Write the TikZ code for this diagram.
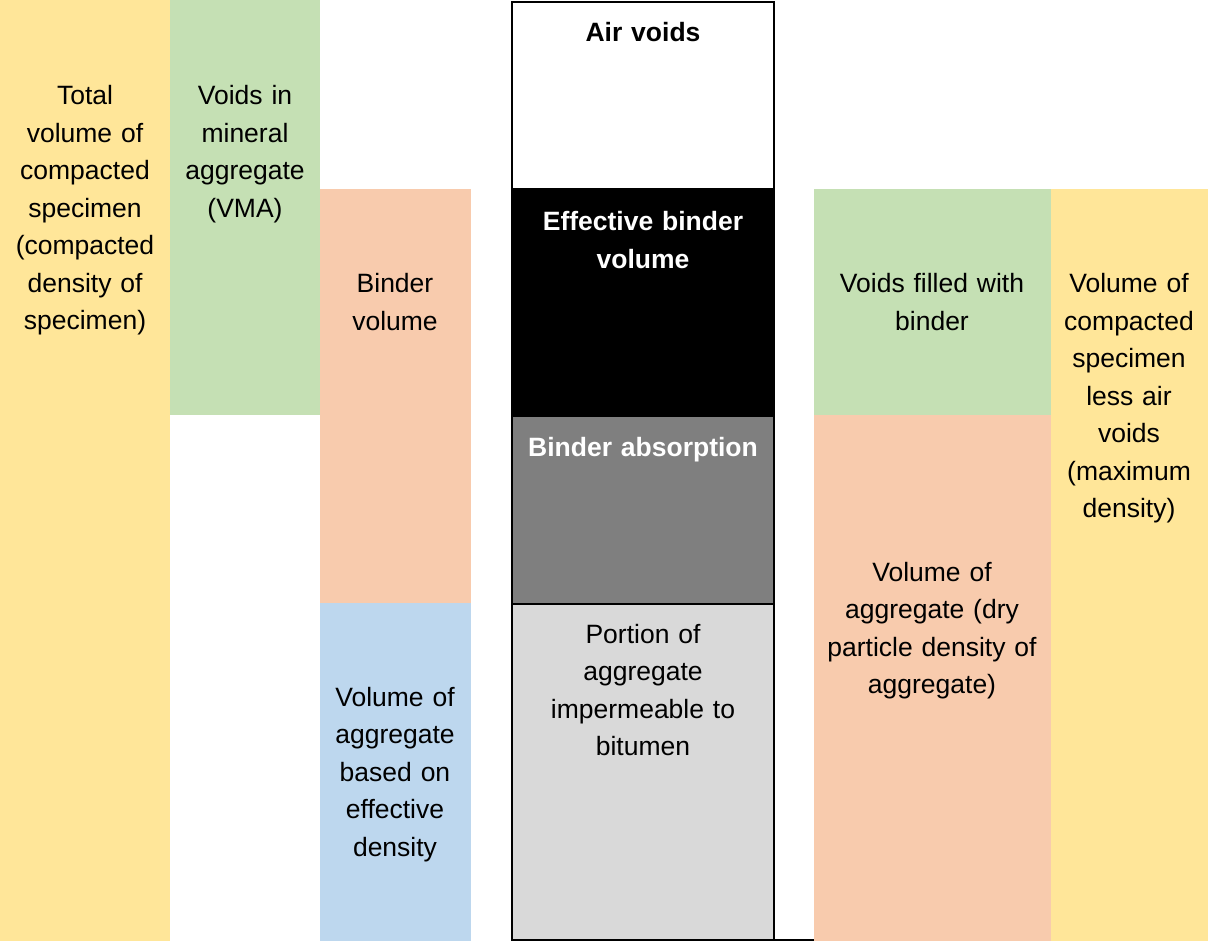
\documentclass[tikz,border=0pt]{standalone}
\usepackage{fontspec}
\setmainfont{Liberation Sans}
\definecolor{cyel}{HTML}{FFE699}
\definecolor{cgrn}{HTML}{C5E0B4}
\definecolor{corg}{HTML}{F8CBAD}
\definecolor{cblu}{HTML}{BDD7EE}
\definecolor{cdgr}{HTML}{7F7F7F}
\definecolor{clgr}{HTML}{D9D9D9}
\tikzset{
  blk/.style={draw=none, inner sep=0pt, outer sep=0pt, anchor=north west},
  cbox/.style={draw=black, line width=2pt, inner sep=0pt, outer sep=0pt, anchor=north west, minimum width=262pt},
  lbl/.style={align=center, text width=250pt, font=\fontsize{26.5}{37.5}\selectfont, anchor=base, inner sep=0pt},
  wlbl/.style={lbl, text=white, font=\fontsize{26.5}{37.5}\selectfont\bfseries},
}
\begin{document}
\begin{tikzpicture}[x=1pt,y=-1pt]
\useasboundingbox (0,0) rectangle (1208,941);
% left columns
\node[blk, fill=cyel, minimum width=170pt, minimum height=941pt] (yl) at (0,0) {};
\node[blk, fill=cgrn, minimum width=150pt, minimum height=415pt] (gl) at (170,0) {};
\node[blk, fill=corg, minimum width=151pt, minimum height=414pt] (ol) at (320,189) {};
\node[blk, fill=cblu, minimum width=151pt, minimum height=338pt] (bl) at (320,603) {};
% right columns
\node[blk, fill=cgrn, minimum width=237pt, minimum height=226pt] (gr) at (814,189) {};
\node[blk, fill=corg, minimum width=237pt, minimum height=526pt] (orr) at (814,415) {};
\node[blk, fill=cyel, minimum width=157pt, minimum height=752pt] (yr) at (1051,189) {};
% centre column
\node[cbox, fill=white, minimum height=187pt] (air) at (512,2) {};
\node[cbox, fill=black, minimum height=227pt] (eff) at (512,189) {};
\node[cbox, fill=cdgr, minimum height=188pt] (abs) at (512,416) {};
\node[cbox, fill=clgr, minimum height=336pt] (imp) at (512,604) {};
\draw[line width=2pt] (imp.south east) -- (imp.south east -| orr.west);
% labels
\node[lbl] (t1) at (85,105) {Total\\volume of\\compacted\\specimen\\(compacted\\density of\\specimen)};
\node[lbl] (t2) at (245,105) {Voids in\\mineral\\aggregate\\(VMA)};
\node[lbl] (t3) at (395,293) {Binder\\volume};
\node[lbl] (t4) at (395,706) {Volume of\\aggregate\\based on\\effective\\density};
\node[lbl, font=\fontsize{26.5}{37.5}\selectfont\bfseries] (t5) at (643,42) {Air voids};
\node[wlbl] (t6) at (643,231) {Effective binder\\volume};
\node[wlbl] (t7) at (643,456) {Binder absorption};
\node[lbl] (t8) at (643,643) {Portion of\\aggregate\\impermeable to\\bitumen};
\node[lbl] (t9) at (932,293) {Voids filled with\\binder};
\node[lbl] (t10) at (932,581) {Volume of\\aggregate (dry\\particle density of\\aggregate)};
\node[lbl] (t11) at (1129,293) {Volume of\\compacted\\specimen\\less air\\voids\\(maximum\\density)};
\end{tikzpicture}
\end{document}
